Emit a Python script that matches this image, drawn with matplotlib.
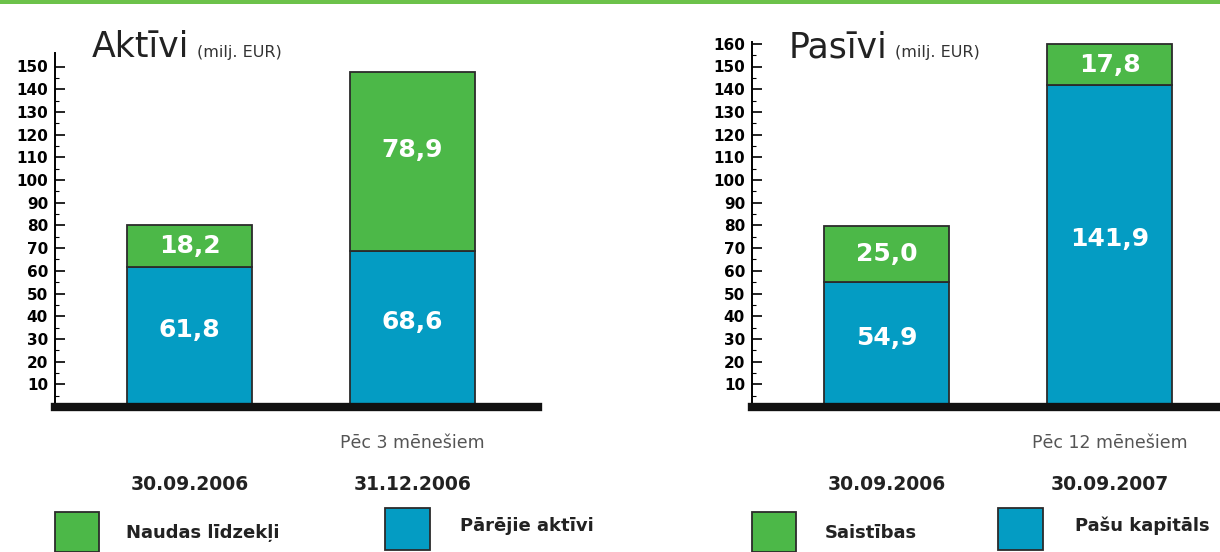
import numpy as np
import matplotlib
matplotlib.use("Agg")
import matplotlib.pyplot as plt
from matplotlib.patches import Rectangle
from matplotlib.ticker import FixedLocator

# ---- data ----
dates_a = ["30.09.2006", "31.12.2006"]
cash = [18.2, 78.9]            # Naudas līdzekļi
other_assets = [61.8, 68.6]    # Pārējie aktīvi

dates_p = ["30.09.2006", "30.09.2007"]
liabilities = [25.0, 17.8]     # Saistības
equity = [54.9, 141.9]         # Pašu kapitāls

GREEN = "#4cb848"
BLUE = "#049cc3"
EDGE = "#2b2b2b"

W, H = 1220, 552
fig = plt.figure(figsize=(W / 100, H / 100), dpi=100)
plt.rcParams['font.family'] = ['DejaVu Sans']

PX_UNIT = 2.27   # pixels per million EUR
BASE_Y = 407     # baseline pixel row (from top)
TOP_Y = 30
BAR_STEP = 223   # pixels between bar centres
BAR_W = 0.56


def fx(px):
    return px / W


def fy(py):
    return 1 - py / H


def make_panel(x0, x1, x_first, lower, upper, ymax_spine, majmax, title, legend_labels,
               dates, note, leg_off):
    ax = fig.add_axes([fx(x0), fy(BASE_Y), fx(x1 - x0), (BASE_Y - TOP_Y) / H])
    xs = np.arange(len(lower))
    ax.bar(xs, lower, width=BAR_W, color=BLUE, edgecolor=EDGE, linewidth=1.3, zorder=2)
    ax.bar(xs, upper, bottom=lower, width=BAR_W, color=GREEN, edgecolor=EDGE,
           linewidth=1.3, zorder=2)
    for x, lo, up in zip(xs, lower, upper):
        ax.text(x, lo / 2 + 3, f"{lo:.1f}".replace(".", ","), color="white",
                fontsize=18, fontweight="bold", ha="center", va="center", zorder=3)
        ax.text(x, lo + up / 2 + (5 if up > 30 else 0), f"{up:.1f}".replace(".", ","),
                color="white", fontsize=18, fontweight="bold", ha="center", va="center",
                zorder=3)

    left = -(x_first - x0) / BAR_STEP
    right = (x1 - x_first) / BAR_STEP
    ax.set_xlim(left, right)
    ax.set_ylim(0, (BASE_Y - TOP_Y) / PX_UNIT)

    for s in ["top", "right", "bottom"]:
        ax.spines[s].set_visible(False)
    ax.spines["left"].set_linewidth(1.4)
    ax.spines["left"].set_bounds(0, ymax_spine)
    ax.axhline(0, color="#111111", linewidth=6, clip_on=False, zorder=4)

    ax.set_xticks([])
    ax.set_yticks(np.arange(10, majmax + 1, 10))
    ax.yaxis.set_minor_locator(FixedLocator(np.arange(5, majmax, 10)))
    ax.tick_params(axis="y", which="major", direction="in", length=7, width=1.2,
                   labelsize=11, pad=5)
    ax.tick_params(axis="y", which="minor", direction="in", length=3, width=0.8)
    for lab in ax.get_yticklabels():
        lab.set_fontweight("bold")
        lab.set_family(["Liberation Sans Narrow", "DejaVu Sans"])
    ax.patch.set_alpha(0)

    # title
    tx = fig.text(fx(x0 + 37), fy(57), title, fontsize=25, color="#222222", ha="left",
                  va="baseline")
    fig.canvas.draw()
    bb = tx.get_window_extent()
    fig.text(bb.x1 / W + 0.006, fy(57), "(milj. EUR)", fontsize=11.5, color="#333333",
             ha="left", va="baseline")

    # dates and note under the bars
    for i, d in enumerate(dates):
        cx = fx(x_first + i * BAR_STEP)
        fig.text(cx, fy(484), d, fontsize=13.5, fontweight="bold", color="#222222",
                 ha="center", va="center")
    fig.text(fx(x_first + BAR_STEP), fy(443), note, fontsize=12.5, color="#555555",
             ha="center", va="center")

    # legend boxes
    g_txt, b_box, b_txt = leg_off
    fig.patches.append(Rectangle((fx(x0), fy(552)), fx(44), 40 / H, transform=fig.transFigure,
                                 facecolor=GREEN, edgecolor=EDGE, linewidth=1.3))
    fig.text(fx(x0 + g_txt), fy(533), legend_labels[0], fontsize=13, fontweight="bold",
             color="#222222", ha="left", va="center")
    fig.patches.append(Rectangle((fx(x0 + b_box), fy(550)), fx(45), 42 / H,
                                 transform=fig.transFigure, facecolor=BLUE, edgecolor=EDGE,
                                 linewidth=1.3))
    fig.text(fx(x0 + b_txt), fy(526), legend_labels[1], fontsize=13, fontweight="bold",
             color="#222222", ha="left", va="center")
    return ax


make_panel(55, 538, 189.5, other_assets, cash, 156, 150, "Aktīvi",
           ["Naudas līdzekļi", "Pārējie aktīvi"], dates_a, "Pēc 3 mēnešiem",
           (71, 330, 405))
make_panel(752, 1222, 886.5, equity, liabilities, 161, 160, "Pasīvi",
           ["Saistības", "Pašu kapitāls"], dates_p, "Pēc 12 mēnešiem",
           (73, 246, 323))

# green strip at the very top
fig.patches.append(Rectangle((0, fy(4)), 1, 4 / H, transform=fig.transFigure,
                             facecolor="#6cc24a", edgecolor="none"))

fig.savefig("out.png", dpi=100)
